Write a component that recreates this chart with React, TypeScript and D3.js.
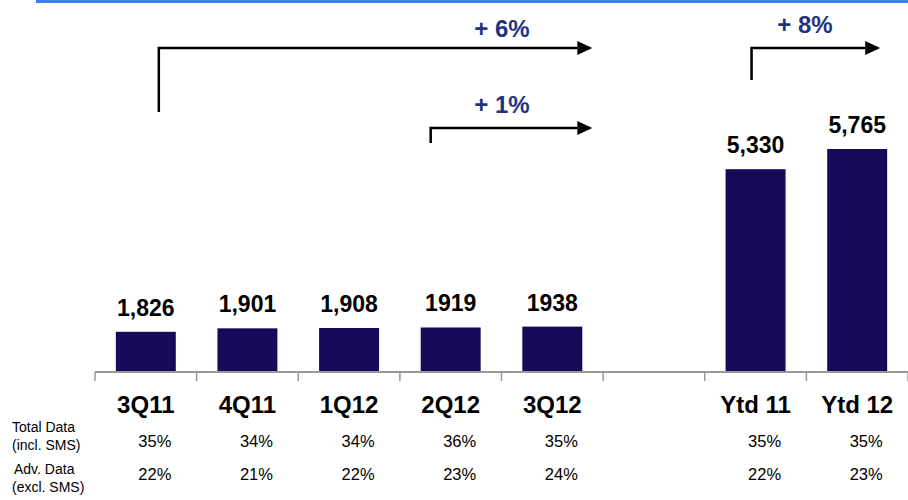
import React from "react";
import * as d3 from "d3";

const categories = ["3Q11", "4Q11", "1Q12", "2Q12", "3Q12", "", "Ytd 11", "Ytd 12"];
const values: (number | null)[] = [1826, 1901, 1908, 1919, 1938, null, 5330, 5765];
const valueLabels = ["1,826", "1,901", "1,908", "1919", "1938", "", "5,330", "5,765"];
const totalDataPct = ["35%", "34%", "34%", "36%", "35%", "", "35%", "35%"];
const advDataPct = ["22%", "21%", "22%", "23%", "24%", "", "22%", "23%"];
const growthLabels = ["+ 6%", "+ 1%", "+ 8%"];
const growthFrom = ["3Q11", "2Q12", "Ytd 11"];
const growthTo = ["3Q12", "3Q12", "Ytd 12"];

const W = 908;
const H = 500;
const FONT = "'Liberation Sans', Arial, sans-serif";
const BAR = "#170b59";
const NAVY = "#1f3480";

// layout for growth arrows (style/positions, not data)
const arrowLayout = [
  { startDx: 13, endDx: 40, yTop: 48, yBottom: 112, labelY: 37, labelX: 502 },
  { startDx: -20, endDx: 40, yTop: 128, yBottom: 143, labelY: 113, labelX: 502 },
  { startDx: -4, endDx: 23, yTop: 48, yBottom: 80, labelY: 33, labelX: 805 },
];

export default function App() {
  const keys = categories.map((c, i) => c || "gap" + i);
  const x = d3.scaleBand<string>().domain(keys).range([95, 908]).paddingInner(0.41).paddingOuter(0.205);
  const y = d3.scaleLinear().domain([960, 5765]).range([372, 149]);
  const bw = x.bandwidth();
  const step = x.step();
  const center = (k: string) => (x(k) as number) + bw / 2;
  const tickXs = d3.range(categories.length + 1).map((i) => 95 + i * step);

  return (
    <svg width={W} height={H} style={{ position: "absolute", left: 0, top: 0, background: "#fff" }}>
      <rect x={36} y={0} width={W - 36} height={3} fill="#3b7ff0" />
      {keys.map((k, i) =>
        values[i] == null ? null : (
          <g key={k}>
            <rect x={x(k)} y={y(values[i] as number)} width={bw} height={372 - y(values[i] as number)} fill={BAR} />
            <text x={center(k)} y={y(values[i] as number) - 16} textAnchor="middle" fontFamily={FONT} fontWeight="bold" fontSize={23} fill="#000">
              {valueLabels[i]}
            </text>
          </g>
        )
      )}
      <line x1={95} x2={908} y1={372} y2={372} stroke="#999" strokeWidth={2} />
      {tickXs.map((tx, i) => (
        <line key={i} x1={tx} x2={tx} y1={372} y2={381} stroke="#999" strokeWidth={1.5} />
      ))}
      {keys.map((k, i) => (
        <text key={"c" + k} x={center(k)} y={413} textAnchor="middle" fontFamily={FONT} fontWeight="bold" fontSize={24} fill="#000">
          {categories[i]}
        </text>
      ))}
      <text x={12} y={432} fontFamily={FONT} fontSize={14} fill="#000">Total Data</text>
      <text x={12} y={450} fontFamily={FONT} fontSize={14} fill="#000">(incl. SMS)</text>
      <text x={14} y={474} fontFamily={FONT} fontSize={14} fill="#000">Adv. Data</text>
      <text x={12} y={492} fontFamily={FONT} fontSize={14} fill="#000">(excl. SMS)</text>
      {keys.map((k, i) => (
        <g key={"p" + k}>
          <text x={center(k) + 9} y={447} textAnchor="middle" fontFamily={FONT} fontSize={16.5} fill="#000">{totalDataPct[i]}</text>
          <text x={center(k) + 9} y={480} textAnchor="middle" fontFamily={FONT} fontSize={16.5} fill="#000">{advDataPct[i]}</text>
        </g>
      ))}
      {growthLabels.map((g, i) => {
        const L = arrowLayout[i];
        const x0 = center(growthFrom[i]) + L.startDx;
        const tip = center(growthTo[i]) + L.endDx;
        const base = tip - 15;
        return (
          <g key={"g" + i}>
            <path d={`M${x0},${L.yBottom}V${L.yTop}H${base}`} fill="none" stroke="#000" strokeWidth={2.5} />
            <path d={`M${base},${L.yTop - 7}L${tip},${L.yTop}L${base},${L.yTop + 7}Z`} fill="#000" />
            <text x={L.labelX} y={L.labelY} textAnchor="middle" fontFamily={FONT} fontWeight="bold" fontSize={24} fill={NAVY}>
              {g}
            </text>
          </g>
        );
      })}
    </svg>
  );
}
